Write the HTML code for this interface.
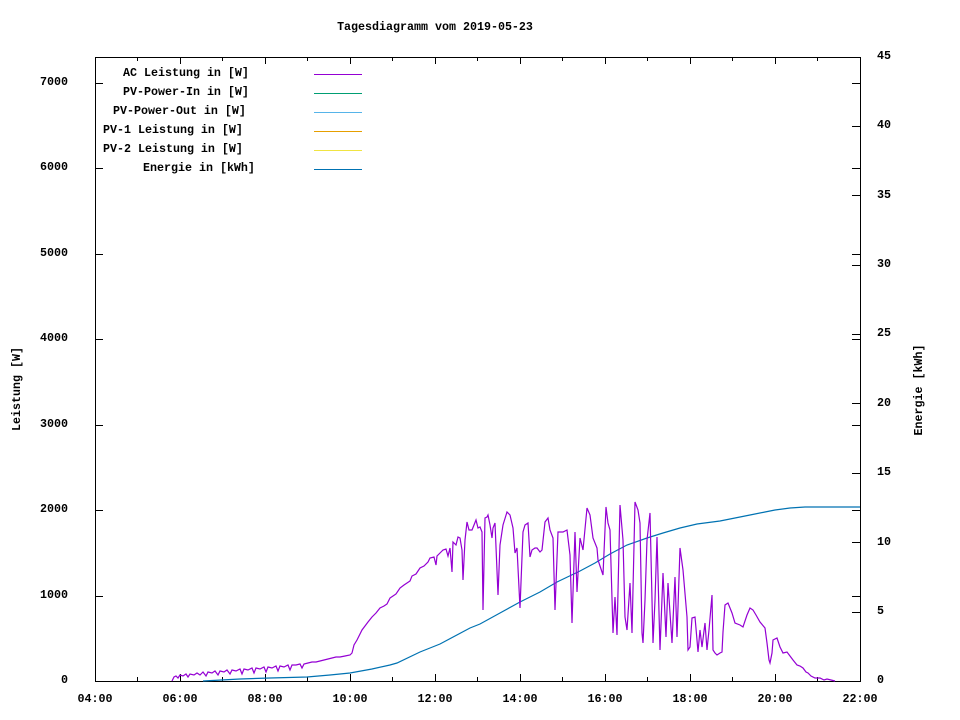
<!DOCTYPE html>
<html><head><meta charset="utf-8"><style>
html,body{margin:0;padding:0;background:#fff;}
svg{display:block;}
text{font-family:"Liberation Mono","DejaVu Sans Mono",monospace;font-size:11.67px;font-weight:bold;fill:#000;}
</style></head><body>
<svg width="960" height="720" viewBox="0 0 960 720" xmlns="http://www.w3.org/2000/svg">
<rect width="960" height="720" fill="#fff"/>
<text x="435" y="30" text-anchor="middle">Tagesdiagramm vom 2019-05-23</text>
<g stroke="#000" stroke-width="1" shape-rendering="crispEdges" fill="none">
<rect x="95.5" y="57.5" width="765" height="624"/>
<!-- left y ticks + mirror -->
<path d="M95 681.5h8M95 596.5h8M95 510.5h8M95 425.5h8M95 339.5h8M95 254.5h8M95 168.5h8M95 83.5h8
M860 596.5h-8M860 510.5h-8M860 425.5h-8M860 339.5h-8M860 254.5h-8M860 168.5h-8M860 83.5h-8"/>
<!-- y2 ticks -->
<path d="M860 612.5h-8M860 542.5h-8M860 473.5h-8M860 403.5h-8M860 334.5h-8M860 265.5h-8M860 195.5h-8M860 126.5h-8"/>
<!-- x ticks major -->
<path d="M180.5 681v-7M265.5 681v-7M350.5 681v-7M435.5 681v-7M520.5 681v-7M605.5 681v-7M690.5 681v-7M775.5 681v-7
M180.5 57v7M265.5 57v7M350.5 57v7M435.5 57v7M520.5 57v7M605.5 57v7M690.5 57v7M775.5 57v7"/>
<!-- x ticks minor -->
<path d="M137.5 681v-4M222.5 681v-4M307.5 681v-4M392.5 681v-4M477.5 681v-4M562.5 681v-4M647.5 681v-4M732.5 681v-4M817.5 681v-4
M137.5 57v4M222.5 57v4M307.5 57v4M392.5 57v4M477.5 57v4M562.5 57v4M647.5 57v4M732.5 57v4M817.5 57v4"/>
</g>
<g text-anchor="end">
<text x="68" y="683">0</text>
<text x="68" y="598">1000</text>
<text x="68" y="512">2000</text>
<text x="68" y="427">3000</text>
<text x="68" y="341">4000</text>
<text x="68" y="256">5000</text>
<text x="68" y="170">6000</text>
<text x="68" y="85">7000</text>
</g>
<g text-anchor="start">
<text x="877" y="683">0</text>
<text x="877" y="614">5</text>
<text x="877" y="545">10</text>
<text x="877" y="475">15</text>
<text x="877" y="406">20</text>
<text x="877" y="336">25</text>
<text x="877" y="267">30</text>
<text x="877" y="198">35</text>
<text x="877" y="128">40</text>
<text x="877" y="59">45</text>
</g>
<g text-anchor="middle">
<text x="95" y="702">04:00</text>
<text x="180" y="702">06:00</text>
<text x="265" y="702">08:00</text>
<text x="350" y="702">10:00</text>
<text x="435" y="702">12:00</text>
<text x="520" y="702">14:00</text>
<text x="605" y="702">16:00</text>
<text x="690" y="702">18:00</text>
<text x="775" y="702">20:00</text>
<text x="860" y="702">22:00</text>
</g>
<text transform="translate(20,389) rotate(-90)" text-anchor="middle">Leistung [W]</text>
<text transform="translate(922,390) rotate(-90)" text-anchor="middle">Energie [kWh]</text>
<!-- legend -->
<g text-anchor="start">
<text x="123" y="76">AC Leistung in [W]</text>
<text x="123" y="95">PV-Power-In in [W]</text>
<text x="113" y="114">PV-Power-Out in [W]</text>
<text x="103" y="133">PV-1 Leistung in [W]</text>
<text x="103" y="152">PV-2 Leistung in [W]</text>
<text x="143" y="171">Energie in [kWh]</text>
</g>
<g stroke-width="1" shape-rendering="crispEdges">
<path d="M314 74.5h48" stroke="#9400d3"/>
<path d="M314 93.5h48" stroke="#009e73"/>
<path d="M314 112.5h48" stroke="#56b4e9"/>
<path d="M314 131.5h48" stroke="#e69f00"/>
<path d="M314 150.5h48" stroke="#f0e442"/>
<path d="M314 169.5h48" stroke="#0072b2"/>
</g>
<!-- energy -->
<polyline fill="none" stroke="#0072b2" stroke-width="1.2" points="203,681 240,679 270,678 307,677 330,675 350,673 372,669 390,665 397,663 420,652 430,648 440,644 470,628 480,624 500,613 520,602 540,592 557,582 580,571 595,563 610,554 627,545 647,538 663,533 680,528 697,524 720,521 735,518 750,515 765,512 775,510 790,508 805,507 820,507 860,507"/>
<!-- AC power -->
<polyline fill="none" stroke="#9400d3" stroke-width="1.2" stroke-linejoin="miter" points="172,681 174,677 176,676 178,678 180,675 183,676 186,674 188,677 190,674 194,675 197,673 200,675 203,672 206,676 208,672 212,673 215,671 218,675 220,671 224,672 227,670 230,674 232,670 236,671 240,669 242,674 244,669 248,670 252,668 254,673 256,668 260,669 264,667 266,672 268,667 272,668 276,666 278,671 280,666 284,667 288,665 290,670 292,665 296,665 300,664 302,668 304,664 308,663 312,662 316,662 320,661 324,660 328,659 332,658 336,657 340,657 345,656 350,655 352,653 354,645 357,640 360,634 362,630 365,626 368,622 372,617 376,613 380,608 384,606 387,604 390,598 393,596 396,594 400,588 404,585 407,583 410,581 412,576 416,574 420,568 424,566 428,562 430,558 434,557 436,565 437,556 441,552 443,550 446,549 448,556 450,548 452,572 453,542 456,545 458,537 460,538 462,550 463,580 465,540 467,522 469,530 472,530 474,525 476,520 478,528 480,527 482,532 483,610 485,518 487,517 488,515 490,525 492,538 493,528 495,523 498,595 500,545 503,525 507,512 510,515 513,528 515,553 517,548 520,608 523,532 525,525 528,523 530,557 532,550 535,548 537,548 540,552 542,550 545,522 548,518 550,530 553,538 555,610 558,532 563,532 567,530 570,555 572,623 575,532 577,592 580,538 583,550 587,508 590,515 593,538 597,548 598,560 603,575 606,507 608,523 610,530 613,633 615,597 617,635 620,505 623,540 625,617 627,630 630,583 632,633 635,502 638,510 640,523 642,633 643,643 645,600 647,540 650,513 653,643 655,600 657,537 660,650 663,573 666,637 668,583 672,643 675,577 677,637 680,548 683,570 687,617 688,650 690,647 692,618 695,617 697,640 698,652 700,630 702,647 705,623 707,650 709,630 712,595 713,650 715,653 717,655 720,653 722,652 723,632 725,605 728,603 730,608 732,613 735,623 740,625 743,627 747,615 750,608 753,610 756,615 760,622 765,628 767,643 769,660 770,663 772,653 773,640 777,638 780,647 783,653 787,652 790,656 793,660 797,665 800,666 803,668 806,672 808,673 811,676 815,678 820,678 824,680 827,679 831,680 835,681"/>
</svg>
</body></html>
